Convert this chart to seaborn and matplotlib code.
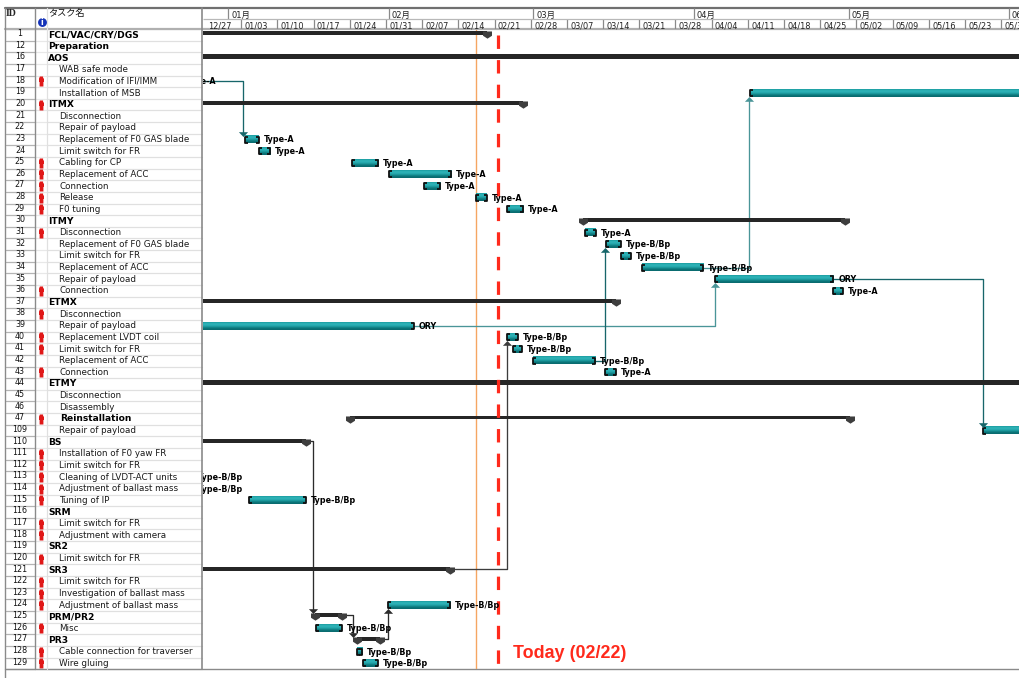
import numpy as np
import pandas as pd
import matplotlib
matplotlib.use("Agg")
import matplotlib.pyplot as plt
from matplotlib.path import Path
from matplotlib.colors import LinearSegmentedColormap
import seaborn as sns

# ---------- data ----------
task_ids = [1, 12, 16, 17, 18, 19, 20, 21, 22, 23, 24, 25, 26, 27, 28, 29, 30, 31, 32, 33, 34, 35, 36, 37, 38,
            39, 40, 41, 42, 43, 44, 45, 46, 47, 109, 110, 111, 112, 113, 114, 115, 116, 117, 118, 119, 120,
            121, 122, 123, 124, 125, 126, 127, 128, 129]
task_names = ["FCL/VAC/CRY/DGS", "Preparation", "AOS", "WAB safe mode", "Modification of IFI/IMM",
              "Installation of MSB", "ITMX", "Disconnection", "Repair of payload", "Replacement of F0 GAS blade",
              "Limit switch for FR", "Cabling for CP", "Replacement of ACC", "Connection", "Release", "F0 tuning",
              "ITMY", "Disconnection", "Replacement of F0 GAS blade", "Limit switch for FR", "Replacement of ACC",
              "Repair of payload", "Connection", "ETMX", "Disconnection", "Repair of payload",
              "Replacement LVDT coil", "Limit switch for FR", "Replacement of ACC", "Connection", "ETMY",
              "Disconnection", "Disassembly", "Reinstallation", "Repair of payload", "BS",
              "Installation of F0 yaw FR", "Limit switch for FR", "Cleaning of LVDT-ACT units",
              "Adjustment of ballast mass", "Tuning of IP", "SRM", "Limit switch for FR", "Adjustment with camera",
              "SR2", "Limit switch for FR", "SR3", "Limit switch for FR", "Investigation of ballast mass",
              "Adjustment of ballast mass", "PRM/PR2", "Misc", "PR3", "Cable connection for traverser", "Wire gluing"]
group_ids = [1, 12, 16, 20, 30, 37, 44, 110, 116, 119, 121, 125, 127]
indented_bold_ids = [47]
person_ids = [18, 20, 25, 26, 27, 28, 29, 31, 36, 38, 40, 41, 43, 47, 111, 112, 113, 114, 115, 117, 118, 120,
              122, 123, 124, 126, 128, 129]

# task bars, days counted from 12/27
bar_ids = [18, 19, 23, 24, 25, 26, 27, 28, 29, 31, 32, 33, 34, 35, 36, 39, 40, 41, 42, 43, 109, 113, 114, 115,
           124, 126, 128, 129]
bar_start = [-12.0, 105.4, 7.7, 10.4, 28.4, 35.6, 42.4, 52.4, 58.4, 73.5, 77.6, 80.5, 84.5, 98.6, 121.5, -30.0,
             58.4, 59.6, 63.4, 77.4, 150.5, -9.0, -9.0, 8.5, 35.4, 21.5, 29.4, 30.6]
bar_end = [-4.6, 190.0, 10.4, 12.6, 33.5, 47.6, 45.5, 54.5, 61.5, 75.6, 80.5, 82.4, 96.3, 121.5, 123.4, 40.4,
           60.5, 61.3, 75.4, 79.5, 175.0, -2.4, -2.4, 19.5, 47.4, 26.5, 30.4, 33.5]
bar_labels = ["Type-A", "", "Type-A", "Type-A", "Type-A", "Type-A", "Type-A", "Type-A", "Type-A", "Type-A",
              "Type-B/Bp", "Type-B/Bp", "Type-B/Bp", "ORY", "Type-A", "ORY", "Type-B/Bp", "Type-B/Bp",
              "Type-B/Bp", "Type-A", "", "Type-B/Bp", "Type-B/Bp", "Type-B/Bp", "Type-B/Bp", "Type-B/Bp",
              "Type-B/Bp", "Type-B/Bp"]

# summary bars
summary_ids = [1, 20, 30, 37, 47, 110, 121, 125, 127]
summary_start = [-30.0, -30.0, 73.1, -30.0, 28.0, -30.0, -30.0, 21.3, 29.4]
summary_end = [54.5, 61.5, 123.8, 79.5, 124.8, 19.5, 47.4, 26.5, 33.8]
full_summary_ids = [16, 44]
full_summary_start = [-30.0, -30.0]
full_summary_end = [200.0, 200.0]

# links: from task id, leaving day, elbow day, to task id
link_from = [18, 34, 39, 42, 35, 121, 110, 125, 127]
link_leave = [-4.6, 96.3, 40.4, 75.4, 121.5, 47.4, 19.5, 26.5, 33.8]
link_elbow = [7.35, 105.3, 98.6, 77.4, 150.4, 58.4, 20.9, 28.7, 35.4]
link_to = [23, 19, 35, 32, 109, 40, 125, 127, 124]
link_color = ["#17666a", "#4a9598", "#4a9598", "#17666a", "#17666a", "#3c3c3c", "#2c2c2c", "#2c2c2c", "#2c2c2c"]

week_labels = ["12/27", "01/03", "01/10", "01/17", "01/24", "01/31", "02/07", "02/14", "02/21", "02/28", "03/07",
               "03/14", "03/21", "03/28", "04/04", "04/11", "04/18", "04/25", "05/02", "05/09", "05/16", "05/23",
               "05/30"]
month_labels = ["01月", "02月", "03月", "04月", "05月", "06月"]
month_start = [4.5, 35.5, 63.5, 94.5, 124.5, 155.5]
status_day = 52.4
today_day = 56.7
today_text = "Today (02/22)"

# ---------- layout ----------
W, H = 1020, 678
X0, PX_PER_DAY = 205.0, 5.17
Y0, PX_PER_ROW = 34.8, 11.64
SUMMARY_LIFT = 0.12
row_of = {t: i for i, t in enumerate(task_ids)}
to_row = lambda ids: [row_of[t] for t in ids]


def rect(x0, y0, x1, y1):
    return [x0 / W, 1 - y1 / H, (x1 - x0) / W, (y1 - y0) / H]


sns.set_theme(style="white")
plt.rcParams["font.family"] = ["DejaVu Sans", "Noto Sans CJK JP"]
fig = plt.figure(figsize=(W / 100, H / 100), dpi=100)

# chrome axes: x in pixels, y in rows
ch = fig.add_axes([0, 0, 1, 1], zorder=1)
ch.set_xlim(0, W)
ch.set_ylim((H - Y0) / PX_PER_ROW, -Y0 / PX_PER_ROW)
ch.axis("off")
px_y = lambda y: (y - Y0) / PX_PER_ROW

# gantt axes
ax = fig.add_axes(rect(203, 30, 1020, 669), zorder=2)
ax.patch.set_alpha(0)
xlim = ((203 - X0) / PX_PER_DAY, (1020 - X0) / PX_PER_DAY)
ylim = (px_y(669), px_y(30))


def bars(rows, starts, ends, height, color):
    df = pd.DataFrame({"row": rows, "start": starts, "dur": np.array(ends) - np.array(starts)}).sort_values("row")
    step = np.diff(df["row"].to_numpy()).min()
    before = len(ax.patches)
    sns.barplot(data=df, x="dur", y="row", orient="y", native_scale=True, width=height / step,
                left=df["start"].to_numpy(), color=color, saturation=1, linewidth=0, errorbar=None, ax=ax,
                zorder=3)
    return ax.patches[before:]


bar_rows = to_row(bar_ids)
s_rows = [r - SUMMARY_LIFT for r in to_row(summary_ids)]
f_rows = [r - SUMMARY_LIFT for r in to_row(full_summary_ids)]
teal_patches = bars(bar_rows, bar_start, bar_end, 0.64, "#1a9ca0")
bars(s_rows, summary_start, summary_end, 0.33, "#262626")
bars(f_rows, full_summary_start, full_summary_end, 0.44, "#262626")

# teal gradient
cmap = LinearSegmentedColormap.from_list("bar", ["#1d9ea2", "#2fb4b9", "#2aaeb3", "#1a9498", "#0b7478", "#0a6a6e"])
grad = np.linspace(0, 1, 16).reshape(-1, 1)
for p in teal_patches:
    x, y, w, h = p.get_x(), p.get_y(), p.get_width(), p.get_height()
    ax.imshow(grad, extent=[x, x + w, y + h, y], aspect="auto", cmap=cmap, zorder=3.2, interpolation="bilinear",
              origin="upper")

# bracket ends
left_cap = Path([(1, 1), (0, 1), (0, -1), (1, -1)], closed=False)
right_cap = Path([(-1, 1), (0, 1), (0, -1), (-1, -1)], closed=False)
ms = 4.4
ax.plot(bar_start, bar_rows, ls="none", marker=left_cap, ms=ms, mew=1.3, mec="#101010", fillstyle="none", zorder=4)
ax.plot(bar_end, bar_rows, ls="none", marker=right_cap, ms=ms, mew=1.3, mec="#101010", fillstyle="none", zorder=4)

# summary end markers
pent = Path([(-1, 0.45), (1, 0.45), (1, -0.5), (0, -1.15), (-1, -0.5), (-1, 0.45)], closed=True)
ax.plot(summary_start, s_rows, ls="none", marker=pent, ms=7.45, mfc="#3e3e3e", mec="#3e3e3e", mew=0, zorder=4)
ax.plot(summary_end, s_rows, ls="none", marker=pent, ms=7.45, mfc="#3e3e3e", mec="#3e3e3e", mew=0, zorder=4)

# links
up = Path([(-1, -0.5), (1, -0.5), (0, 0.55), (-1, -0.5)], closed=True)
down = Path([(-1, 0.5), (1, 0.5), (0, -0.55), (-1, 0.5)], closed=True)
for a, leave, elbow, b, c in zip(link_from, link_leave, link_elbow, link_to, link_color):
    ra, rb = row_of[a], row_of[b]
    if a in summary_ids:
        ra -= SUMMARY_LIFT
    going_down = rb > ra
    tip = rb - 0.47 if going_down else rb + 0.48
    ax.plot([leave, elbow, elbow], [ra, ra, tip], color=c, lw=0.95, zorder=2.5, solid_joinstyle="round")
    ax.plot([elbow], [tip], ls="none", marker=down if going_down else up, ms=6.6, mfc=c, mec=c, mew=0, zorder=5)

# status and today lines
ax.axvline(status_day, color="#f5a662", lw=1.0, zorder=2)
ax.plot([today_day, today_day], [px_y(35), px_y(669)], color="#ff2a1c", lw=2.3, zorder=5.5,
        dashes=(4.2, 3.5), dash_capstyle="butt")
ax.text((513 - X0) / PX_PER_DAY, px_y(653), today_text, color="#ff2a1c", fontsize=12.9, fontweight="bold",
        family="Liberation Sans", va="center", ha="left", zorder=7)

# bar labels
for r, e, t in zip(bar_rows, bar_end, bar_labels):
    if t:
        ax.annotate(t, (e, r), xytext=(3.6, -0.3), textcoords="offset points", va="center", ha="left", fontsize=5.8,
                    fontweight="bold", color="black", clip_on=True, annotation_clip=False, zorder=6)

ax.set_xlim(xlim)
ax.set_ylim(ylim)
ax.set_xlabel("")
ax.set_ylabel("")
ax.set_xticks([])
ax.set_yticks([])
for s in ax.spines.values():
    s.set_visible(False)

# table
grey = "#8a8a8a"
for i in range(len(task_ids) + 1):
    y = i - 0.5
    ch.plot([6, 35], [y, y], color="#b4b4b4", lw=0.9)
    ch.plot([47, 202], [y, y], color="#e0e0e0", lw=0.9)
    ch.plot([36, 46], [y, y], color="#e8e8e8", lw=0.9)
for i, (tid, name) in enumerate(zip(task_ids, task_names)):
    ch.text(20, i - 0.1, str(tid), ha="center", va="center", fontsize=5.8, color="#111111")
    if tid in group_ids:
        ch.text(48, i, name, ha="left", va="center", fontsize=6.6, fontweight="bold", color="black")
    elif tid in indented_bold_ids:
        ch.text(60, i, name, ha="left", va="center", fontsize=6.6, fontweight="bold", color="black")
    else:
        ch.text(59.5, i, name, ha="left", va="center", fontsize=6.3, color="#1a1a1a")

# people icons
person = Path([(-0.32, 1), (0.32, 1), (0.32, 0.66), (0.5, 0.58), (0.5, -0.1), (0.38, -0.1), (0.38, -1),
               (-0.38, -1), (-0.38, -0.1), (-0.5, -0.1), (-0.5, 0.58), (-0.32, 0.66)], closed=True)
ch.plot([41.5] * len(person_ids), to_row(person_ids), ls="none", marker=person, ms=7.2, mfc="#e01818", mec="#e01818",
        mew=0)

# table borders
top, hdr, bot = px_y(8), px_y(29), px_y(669)
ch.plot([5, 1020], [top, top], color="#707070", lw=1.6)
ch.plot([5, 1020], [hdr, hdr], color="#b0b0b0", lw=1.6)
ch.plot([5, 1020], [bot, bot], color=grey, lw=1.0)
ch.plot([5, 5], [top, px_y(678)], color=grey, lw=1.0)
ch.plot([35.5, 35.5], [top, bot], color=grey, lw=1.0)
ch.plot([47, 47], [top, bot], color="#e0e0e0", lw=0.9)
ch.plot([202, 202], [top, bot], color=grey, lw=1.2)
ch.text(6, px_y(14), "ID", fontsize=7.0, family="Liberation Serif", fontweight="bold", va="center", ha="left")
ch.text(48, px_y(13.5), "タスク名", fontsize=6.6, family=["Noto Sans CJK JP"], va="center", ha="left", color="#111111")
ch.plot([42], [px_y(22.5)], ls="none", marker="o", ms=6.4, mfc="#1533b8", mec="#1533b8", mew=0)
ch.text(42, px_y(22.5), "i", color="white", fontsize=5.8, fontweight="bold", ha="center", va="center")

# date header
hd = fig.add_axes(rect(203, 8, 1020, 29), zorder=3)
hd.patch.set_alpha(0)
hd.set_xlim(xlim)
hd.set_ylim(2, 0)
for s in hd.spines.values():
    s.set_visible(False)
hd.set_yticks([])
week_edges = np.arange(len(week_labels) + 1) * 7.0
hd.set_xticks(week_edges[:-1] + 2.9, week_labels)
hd.tick_params(axis="x", length=0, pad=-5.6, labelsize=5.9, labelcolor="#222222")
split = 1.09
hd.vlines(week_edges[1:], split, 2, color=grey, lw=0.9)
hd.vlines(month_start, 0, split, color=grey, lw=0.9)
hd.hlines(split, *xlim, color="#b8b8b8", lw=0.9)
for m, lab in zip(month_start, month_labels):
    hd.text(m + 0.55, 0.71, lab, fontsize=6.0, va="center", ha="left", color="#222222", clip_on=True,
            family=["DejaVu Sans", "Noto Sans CJK JP"])
hd.set_xlim(xlim)

fig.savefig("out.png", dpi=100)
